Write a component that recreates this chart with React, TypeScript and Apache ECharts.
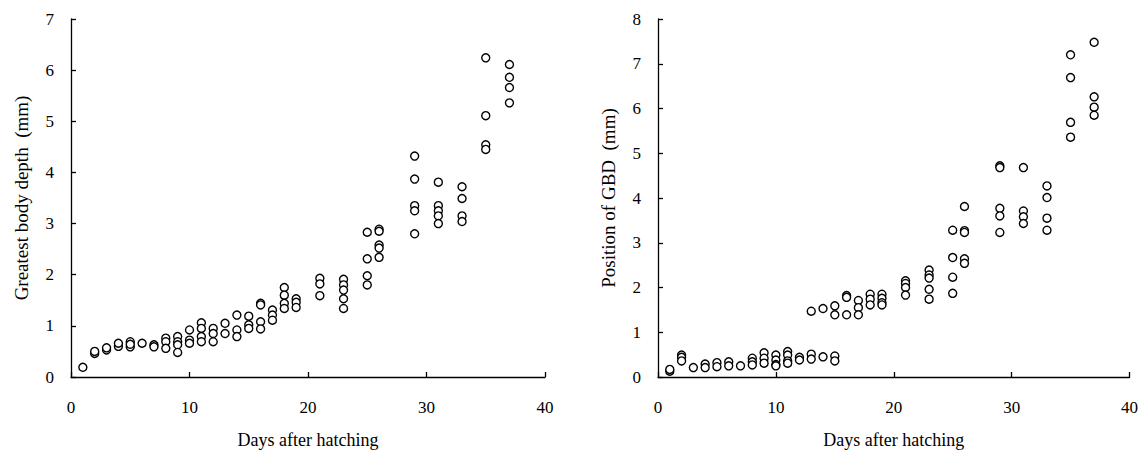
import React, { useEffect, useRef } from "react";
import * as echarts from "echarts";

const days = [1, 2, 3, 4, 5, 6, 7, 8, 9, 10, 11, 12, 13, 14, 15, 16, 17, 18, 19, 21, 23, 25, 26, 29, 31, 33, 35, 37];

const depthByDay: number[][] = [
  [0.19],
  [0.46, 0.5],
  [0.53, 0.57],
  [0.6, 0.66],
  [0.69, 0.59, 0.64],
  [0.66],
  [0.63, 0.59],
  [0.76, 0.69, 0.56],
  [0.79, 0.69, 0.63, 0.48],
  [0.92, 0.72, 0.66],
  [1.06, 0.95, 0.79, 0.69],
  [0.95, 0.85, 0.69],
  [1.05, 0.85],
  [1.21, 0.92, 0.79],
  [1.19, 1.02, 0.95],
  [1.44, 1.41, 1.08, 0.94],
  [1.31, 1.21, 1.11],
  [1.75, 1.6, 1.44, 1.34],
  [1.53, 1.46, 1.36],
  [1.93, 1.82, 1.59],
  [1.91, 1.8, 1.7, 1.53, 1.34],
  [2.83, 2.31, 1.98, 1.8],
  [2.89, 2.85, 2.58, 2.52, 2.34],
  [4.32, 3.87, 3.35, 3.25, 2.8],
  [3.81, 3.35, 3.25, 3.15, 3.0],
  [3.72, 3.49, 3.15, 3.04],
  [6.24, 5.11, 4.54, 4.45],
  [6.11, 5.86, 5.66, 5.36],
];

const positionByDay: number[][] = [
  [0.13, 0.17],
  [0.49, 0.44, 0.36],
  [0.21],
  [0.29, 0.21],
  [0.32, 0.23],
  [0.34, 0.25],
  [0.25],
  [0.42, 0.34, 0.27],
  [0.54, 0.42, 0.31],
  [0.49, 0.38, 0.28, 0.25],
  [0.57, 0.49, 0.36, 0.31],
  [0.44, 0.38],
  [1.47, 0.51, 0.4],
  [1.53, 0.45],
  [1.59, 1.39, 0.47, 0.36],
  [1.82, 1.78, 1.39],
  [1.71, 1.55, 1.39],
  [1.85, 1.74, 1.61],
  [1.85, 1.76, 1.66, 1.61],
  [2.15, 2.09, 2.0, 1.83],
  [2.39, 2.28, 2.21, 1.96, 1.74],
  [3.28, 2.67, 2.23, 1.87],
  [3.81, 3.27, 3.23, 2.64, 2.54],
  [4.72, 4.68, 3.77, 3.6, 3.23],
  [4.68, 3.71, 3.58, 3.43],
  [4.27, 4.01, 3.55, 3.28],
  [7.2, 6.69, 5.69, 5.36],
  [7.48, 6.26, 6.03, 5.85],
];

const xName = "Days after hatching";
const leftYName = "Greatest body depth  (mm)";
const rightYName = "Position of GBD  (mm)";

function flatten(byDay: number[][]): number[][] {
  const out: number[][] = [];
  byDay.forEach((vals, i) => vals.forEach((v) => out.push([days[i], v])));
  return out;
}

const FONT = "Liberation Serif";

function xAxisCfg(gridIndex: number) {
  return {
    type: "value",
    gridIndex,
    min: 0,
    max: 40,
    interval: 10,
    name: xName,
    nameLocation: "middle",
    nameGap: 54,
    nameTextStyle: { fontFamily: FONT, fontSize: 18, color: "#000" },
    axisLine: { show: true, lineStyle: { color: "#000", width: 1.3 } },
    axisTick: { show: true, inside: true, length: 5, lineStyle: { color: "#000", width: 1.3 } },
    axisLabel: { margin: 22, fontFamily: FONT, fontSize: 17, color: "#000" },
    splitLine: { show: false },
  };
}

function yAxisCfg(gridIndex: number, max: number, name: string) {
  return {
    type: "value",
    gridIndex,
    min: 0,
    max,
    interval: 1,
    name,
    nameLocation: "middle",
    nameRotate: 90,
    nameGap: 40,
    nameTextStyle: { fontFamily: FONT, fontSize: 19, color: "#000" },
    axisLine: { show: true, lineStyle: { color: "#000", width: 1.3 } },
    axisTick: { show: true, inside: true, length: 5, lineStyle: { color: "#000", width: 1.3 } },
    axisLabel: { margin: 17, fontFamily: FONT, fontSize: 17, color: "#000" },
    splitLine: { show: false },
  };
}

export default function App() {
  const ref = useRef<HTMLDivElement>(null);
  useEffect(() => {
    if (!ref.current) return;
    const chart = echarts.init(ref.current, undefined, { renderer: "svg" });
    const marker = {
      symbol: "circle",
      symbolSize: 8,
      itemStyle: { color: "#ffffff", borderColor: "#000000", borderWidth: 1.4, opacity: 1 },
    };
    chart.setOption({
      animation: false,
      backgroundColor: "#fff",
      grid: [
        { left: 71, top: 19, width: 474, height: 358 },
        { left: 658, top: 19, width: 472, height: 358 },
      ],
      xAxis: [xAxisCfg(0), xAxisCfg(1)],
      yAxis: [yAxisCfg(0, 7, leftYName), yAxisCfg(1, 8, rightYName)],
      series: [
        { type: "scatter", xAxisIndex: 0, yAxisIndex: 0, data: flatten(depthByDay), ...marker },
        { type: "scatter", xAxisIndex: 1, yAxisIndex: 1, data: flatten(positionByDay), ...marker },
      ],
    });
    return () => chart.dispose();
  }, []);
  return (
    <div
      ref={ref}
      style={{ position: "fixed", left: 0, top: 0, width: 1141, height: 460 }}
    />
  );
}
